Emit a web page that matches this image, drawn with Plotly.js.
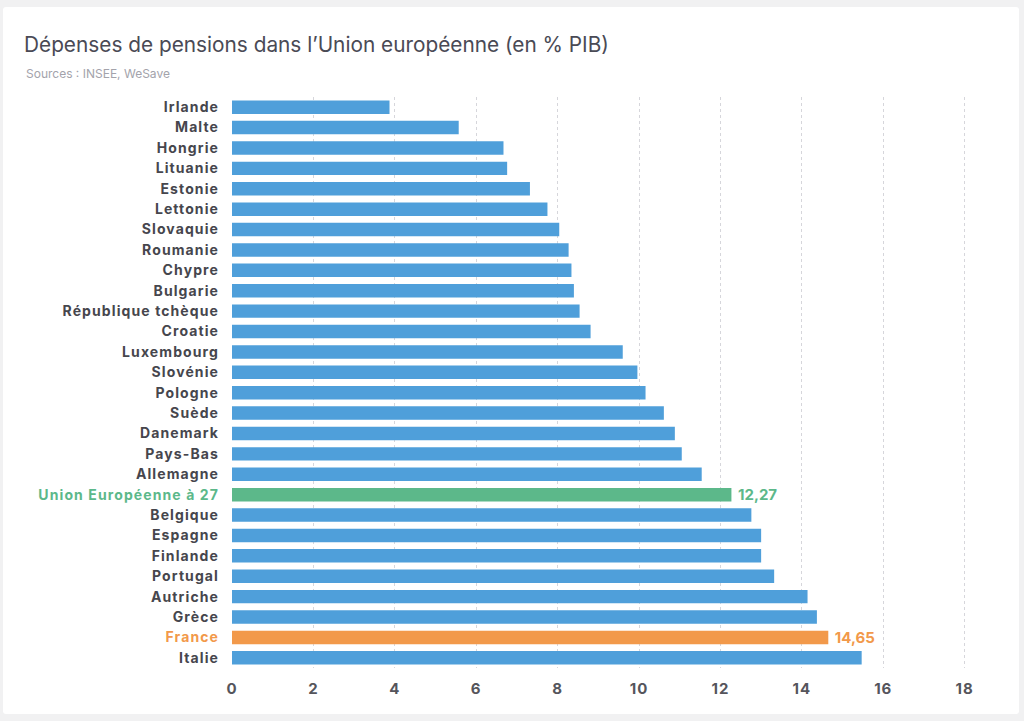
<!DOCTYPE html>
<html>
<head>
<meta charset="utf-8">
<script src="https://cdn.plot.ly/plotly-3.0.1.min.js"></script>
<style>
  html, body { margin: 0; padding: 0; background: #f1f1f2; }
  #card { position: absolute; left: 3px; top: 7px; width: 1016px; height: 707px; background: #ffffff; border-radius: 3px; }
  #chart { position: absolute; left: 0; top: 0; width: 1024px; height: 721px; }
  #chart .ytick text { letter-spacing: 1.1px; }
  #chart .xtick text { letter-spacing: 1px; }
  #chart .textpoint text { letter-spacing: 1px; }
</style>
</head>
<body>
<div id="card"></div>
<div id="chart"></div>
<script>
const countries = ["Irlande","Malte","Hongrie","Lituanie","Estonie","Lettonie","Slovaquie","Roumanie","Chypre","Bulgarie","République tchèque","Croatie","Luxembourg","Slovénie","Pologne","Suède","Danemark","Pays-Bas","Allemagne","Union Européenne à 27","Belgique","Espagne","Finlande","Portugal","Autriche","Grèce","France","Italie"];
const values = [3.87,5.57,6.67,6.76,7.32,7.75,8.04,8.27,8.34,8.40,8.54,8.81,9.60,9.96,10.16,10.61,10.88,11.05,11.54,12.27,12.76,13.0,13.0,13.32,14.14,14.37,14.65,15.47];
const highlight = {"Union Européenne à 27": "#5cb88a", "France": "#f2994a"};
const labelled = {"Union Européenne à 27": "12,27", "France": "14,65"};
const xTicks = [0,2,4,6,8,10,12,14,16,18];

const BLUE = "#4f9fda";
const barColors = countries.map(c => highlight[c] || BLUE);
const barText = countries.map(c => labelled[c] ? "\u00a0" + labelled[c] : "");
const textColors = countries.map(c => highlight[c] || "#444");
const tickText = countries.map(c => highlight[c]
  ? '<span style="color:' + highlight[c] + '">' + c + '</span>' : c);

const L = 232, R = 39, T = 97, B = 53, W = 1024, H = 721;
const pw = W - L - R;

const trace = {
  type: "bar",
  orientation: "h",
  x: values,
  y: countries,
  marker: { color: barColors },
  text: barText,
  textposition: "outside",
  constraintext: "none",
  cliponaxis: false,
  textfont: { family: "Inter, sans-serif", size: 15, color: textColors, weight: 700 },
  hoverinfo: "x+y"
};

const layout = {
  width: W, height: H,
  paper_bgcolor: "rgba(0,0,0,0)",
  plot_bgcolor: "rgba(0,0,0,0)",
  margin: { l: L, r: R, t: T, b: B },
  bargap: 0.34,
  showlegend: false,
  font: { family: "Inter, sans-serif" },
  title: {
    text: "Dépenses de pensions dans l’Union européenne (en % PIB)",
    xref: "container", yref: "container",
    x: 24 / W, xanchor: "left",
    y: 1 - 45 / H, yanchor: "middle",
    font: { family: "Inter, sans-serif", size: 20.8, color: "#4a4a55" }
  },
  annotations: [{
    text: "Sources : INSEE, WeSave",
    xref: "paper", yref: "paper",
    x: (24 - L) / pw, xanchor: "left",
    y: 1 + (T - 73) / (H - T - B), yanchor: "middle",
    showarrow: false,
    font: { family: "Inter, sans-serif", size: 12, color: "#a3a3ab" }
  }],
  xaxis: {
    range: [0, 18.5],
    tickvals: xTicks,
    ticktext: xTicks.map(String),
    showgrid: true,
    gridcolor: "#d6d6db",
    griddash: "dot",
    gridwidth: 1,
    zeroline: false,
    showline: false,
    ticks: "",
    ticklabelstandoff: 10,
    tickfont: { family: "Inter, sans-serif", size: 15, color: "#55555c", weight: 700 },
    fixedrange: true
  },
  yaxis: {
    type: "category",
    autorange: "reversed",
    tickvals: countries,
    ticktext: tickText,
    showgrid: false,
    zeroline: false,
    showline: false,
    ticks: "",
    ticklabelstandoff: 12,
    tickfont: { family: "Inter, sans-serif", size: 14, color: "#46464d", weight: 700 },
    fixedrange: true
  }
};

Plotly.newPlot("chart", [trace], layout, { displayModeBar: false, staticPlot: true });
</script>
</body>
</html>
